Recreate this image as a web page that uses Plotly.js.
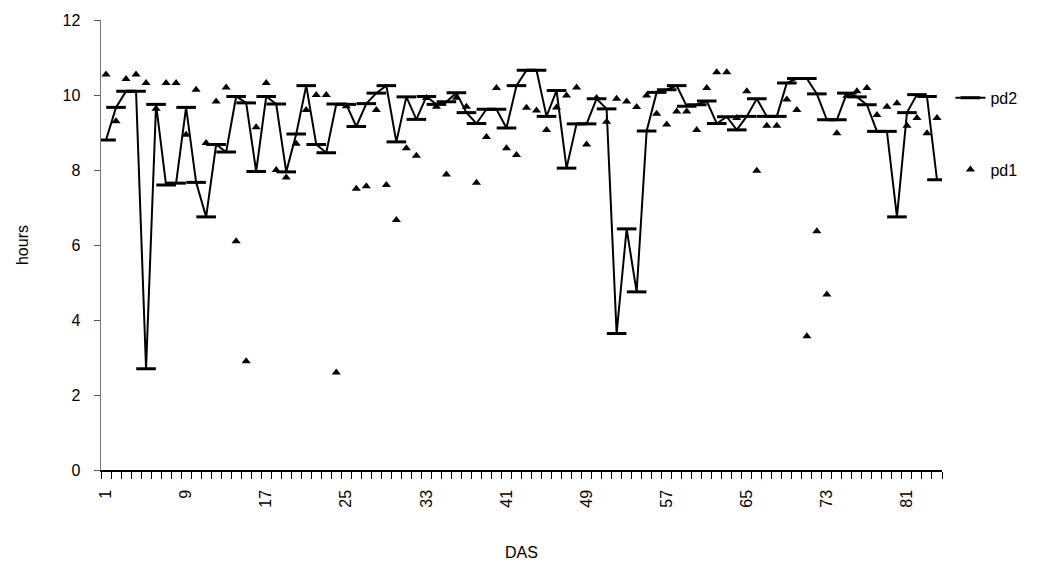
<!DOCTYPE html>
<html>
<head>
<meta charset="utf-8">
<script src="https://cdn.plot.ly/plotly-3.0.1.min.js"></script>
<style>html,body{margin:0;padding:0;background:#fff;}#chart{width:1063px;height:577px;}</style>
</head>
<body>
<div id="chart"></div>
<script>
// DAS categories
const das = [1,2,3,4,5,6,7,8,9,10,11,12,13,14,15,16,17,18,19,20,21,22,23,24,25,26,27,28,29,30,
  31,32,33,34,35,36,37,38,39,40,41,42,43,44,45,46,47,48,49,50,51,52,53,54,55,56,57,58,59,60,
  61,62,63,64,65,66,67,68,69,70,71,72,73,74,75,76,77,78,79,80,81,82,83,84];
// series pd2 (line with dash markers)
const pd2 = [8.8,9.67,10.1,10.1,2.7,9.75,7.6,7.65,9.67,7.67,6.75,8.68,8.48,9.96,9.79,7.96,9.96,9.76,7.95,8.96,
  10.25,8.68,8.46,9.76,9.75,9.16,9.77,10.05,10.25,8.75,9.95,9.35,9.96,9.75,9.82,10.06,9.53,9.24,9.62,9.62,
  9.12,10.25,10.66,10.66,9.43,10.12,8.05,9.23,9.23,9.9,9.63,3.64,6.43,4.75,9.04,10.07,10.14,10.25,9.7,9.74,
  9.84,9.24,9.42,9.07,9.43,9.9,9.43,9.43,10.32,10.44,10.44,10.03,9.34,9.34,10.05,9.95,9.74,9.03,9.03,6.75,
  9.53,10.01,9.96,7.74];
// series pd1 (triangles)
const pd1 = [10.55,9.3,10.43,10.55,10.32,9.63,10.32,10.32,8.94,10.14,8.72,9.83,10.2,6.1,2.9,9.14,10.32,8.0,7.8,8.7,
  9.6,10.0,10.0,2.6,9.7,7.5,7.57,9.6,7.6,6.67,8.58,8.38,9.92,9.69,7.88,9.93,9.69,7.66,8.88,10.19,
  8.58,8.4,9.66,9.59,9.07,9.67,9.99,10.2,8.68,9.92,9.29,9.9,9.83,9.68,9.99,9.5,9.21,9.56,9.56,9.07,
  10.19,10.61,10.61,9.39,10.1,7.98,9.18,9.18,9.88,9.6,3.57,6.37,4.68,8.98,9.98,10.1,10.19,9.47,9.69,9.78,
  9.18,9.39,8.98,9.39];
// tick labels
const tickLabels = ['1','9','17','25','33','41','49','57','65','73','81'];
const tickPos = tickLabels.map(Number);
const boundaries = das.map(d => d - 0.5).concat([das[das.length-1] + 0.5]);

const font = {family: 'Liberation Sans, Arial, sans-serif', size: 16, color: '#000'};

const traces = [
  {
    x: das, y: pd2, name: 'pd2', type: 'scatter', mode: 'lines+markers',
    legendgroup: 'a',
    line: {color: '#000', width: 2},
    marker: {symbol: 'line-ew', size: 14, color: '#000', line: {color: '#000', width: 3}}
  },
  {
    x: das, y: pd1, name: 'pd1', type: 'scatter', mode: 'markers',
    legendgroup: 'b',
    marker: {symbol: 'triangle-up', size: 8, color: '#000', line: {width: 0}}
  }
];

const layout = {
  width: 1063, height: 577,
  margin: {l: 101, r: 121, t: 20, b: 107},
  paper_bgcolor: '#fff', plot_bgcolor: '#fff',
  font: font,
  showlegend: true,
  legend: {x: 1.01, y: 0.865, xanchor: 'left', yanchor: 'top', font: font,
           tracegroupgap: 48, bgcolor: 'rgba(0,0,0,0)'},
  xaxis: {
    range: [0.5, 84.5], showgrid: false, zeroline: false,
    showline: true, linecolor: '#000', linewidth: 1.5,
    tickmode: 'array', tickvals: tickPos, ticktext: tickLabels,
    ticks: '', tickangle: -90, tickfont: font, ticklabelstandoff: 12,
    minor: {tickmode: 'array', tickvals: boundaries, ticks: 'outside', ticklen: 7, tickcolor: '#000', tickwidth: 1, showgrid: false},
    title: {text: 'DAS', font: font, standoff: 40}
  },
  yaxis: {
    range: [0, 12], showgrid: false, zeroline: false,
    showline: true, linecolor: '#777', linewidth: 1.5,
    tickmode: 'array', tickvals: [0,2,4,6,8,10,12],
    ticks: 'outside', ticklen: 6, tickcolor: '#555', tickfont: font, ticklabelstandoff: 10,
    title: {text: 'hours', font: font, standoff: 30}
  }
};

Plotly.newPlot('chart', traces, layout, {staticPlot: true, displayModeBar: false});
</script>
</body>
</html>
